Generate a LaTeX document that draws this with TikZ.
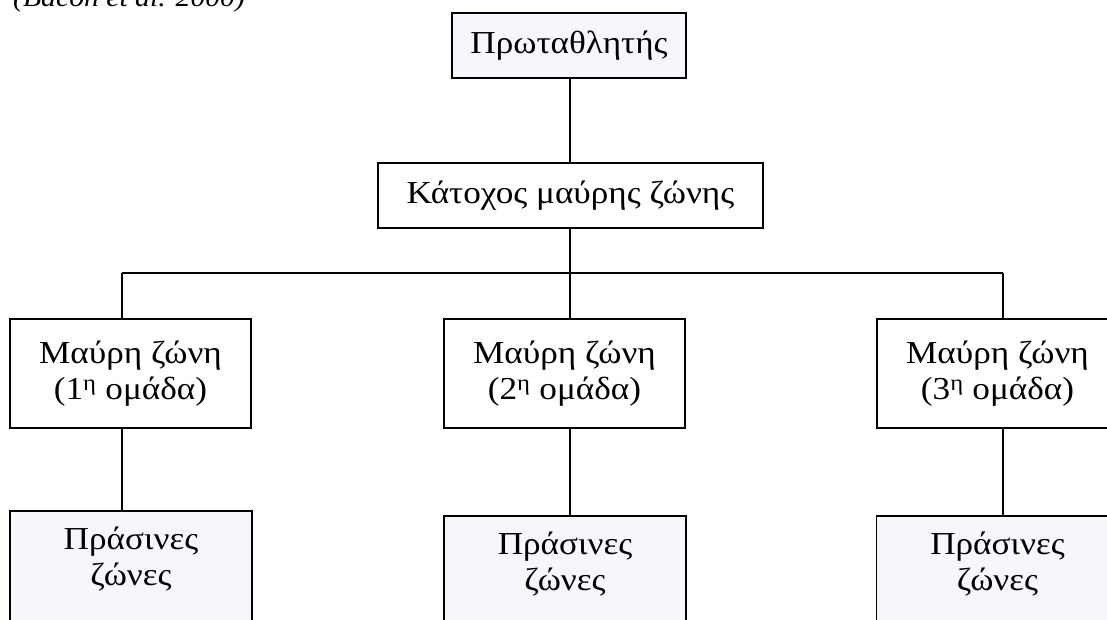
\documentclass[tikz,border=0pt]{standalone}
\usepackage{fontspec}
\setmainfont{Liberation Serif}[FakeStretch=1.1]
\begin{document}
\begin{tikzpicture}[x=1pt,y=-1pt,
  box/.style={draw=black, line width=1.6pt, rectangle, inner sep=0pt,
    align=center, font=\fontsize{32}{36}\selectfont},
  whitebox/.style={box, fill=white},
  tintbox/.style={box, fill=lavfill},
  label/.style={inner sep=0pt, align=center, font=\fontsize{32}{36}\selectfont},
  link/.style={line width=1.6pt, black}
]
\definecolor{lavfill}{RGB}{249,245,253}
\useasboundingbox (0,0) rectangle (1107,619);
\clip (0,0) rectangle (1107,619);

% source note along the top edge
\node[anchor=base west, inner sep=0pt, font=\fontsize{27}{30}\selectfont\itshape]
  (src) at (13,6.5) {(Bacon et al. 2000)};

% top of the hierarchy
\node[tintbox, minimum width=234, minimum height=65] (champ) at (569,45.5) {Πρωταθλητής};
\node[whitebox, minimum width=385, minimum height=65] (holder) at (570.5,195.5) {Κάτοχος μαύρης ζώνης};

% black belt groups
\node[whitebox, minimum width=241, minimum height=109] (b1) at (130.5,373.5)
  {Μαύρη ζώνη\\(1\textsuperscript{η} ομάδα)};
\node[whitebox, minimum width=241, minimum height=109] (b2) at (564.5,373.5)
  {Μαύρη ζώνη\\(2\textsuperscript{η} ομάδα)};
\node[whitebox, minimum width=241, minimum height=109] (b3) at (997.5,373.5)
  {Μαύρη ζώνη\\(3\textsuperscript{η} ομάδα)};

% green belt boxes (running past the lower edge)
\node[tintbox, anchor=north, minimum width=242, minimum height=140] (g1) at (131,510) {};
\node[tintbox, anchor=north, minimum width=242, minimum height=140] (g2) at (565,515) {};
\node[tintbox, anchor=north, minimum width=242, minimum height=140] (g3) at (997.5,515) {};
\node[label, anchor=north] (g1t) at ([yshift=-17pt]g1.north) {Πράσινες\\ζώνες};
\node[label, anchor=north] (g2t) at ([yshift=-17pt]g2.north) {Πράσινες\\ζώνες};
\node[label, anchor=north] (g3t) at ([yshift=-17pt]g3.north) {Πράσινες\\ζώνες};

% branch points
\coordinate (busL) at (122,273);
\coordinate (busM) at (570,273);
\coordinate (busR) at (1003,273);

% connectors
\draw[link] (champ.south -| busM) -- (holder.north -| busM);
\draw[link] (holder.south -| busM) -- (busM);
\draw[link] (busL) -- (busR);
\draw[link] (busL) -- (b1.north -| busL);
\draw[link] (busM) -- (b2.north -| busM);
\draw[link] (busR) -- (b3.north -| busR);
\draw[link] (b1.south -| busL) -- (g1.north -| busL);
\draw[link] (b2.south -| busM) -- (g2.north -| busM);
\draw[link] (b3.south -| busR) -- (g3.north -| busR);
\end{tikzpicture}
\end{document}
